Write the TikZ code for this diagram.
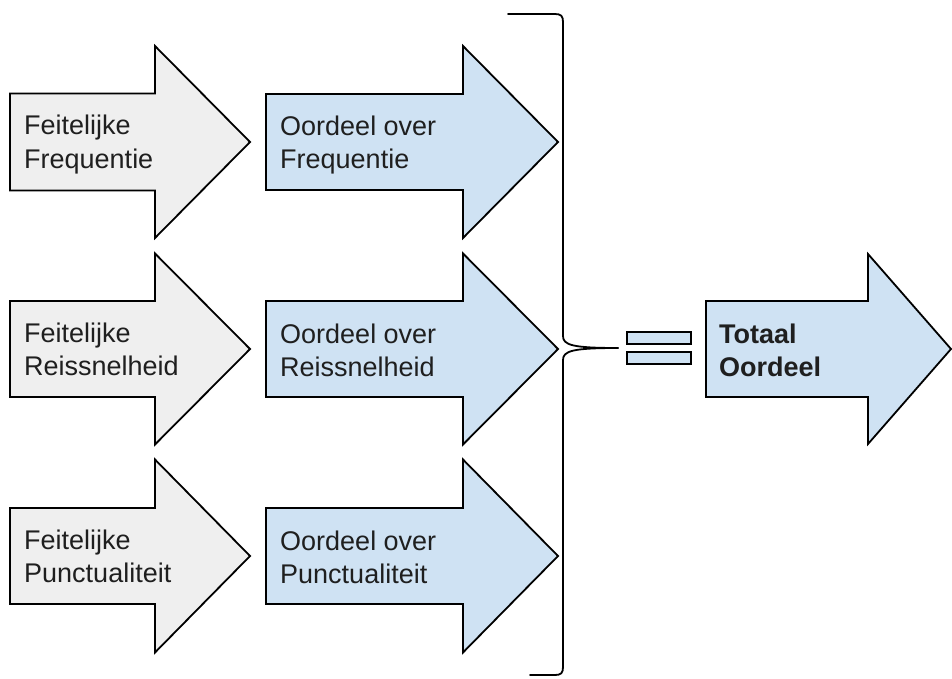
\documentclass[tikz,border=0pt]{standalone}
\usepackage{fontspec}
\setmainfont{Liberation Sans}
\definecolor{grayfill}{HTML}{EFEFEF}
\definecolor{bluefill}{HTML}{CFE2F3}
\tikzset{
  arrowshape/.style={draw=black, line width=1.8pt, line join=miter},
  lbl/.style={anchor=base west, inner sep=0pt, font=\fontsize{27}{33}\selectfont, text=black!88},
  bracestyle/.style={draw=black, line width=1.8pt, line cap=round},
  eqbar/.style={draw=black, line width=1.8pt, fill=bluefill},
}
% #1 fill, #2 left x, #3 centre y, #4 body half height, #5 head base x, #6 head half height, #7 tip x
\newcommand\bigarrow[7]{%
  \draw[arrowshape, fill=#1] (#2,#3-#4) -- (#5,#3-#4) -- (#5,#3-#6) -- (#7,#3)
    -- (#5,#3+#6) -- (#5,#3+#4) -- (#2,#3+#4) -- cycle;}
\begin{document}
\begin{tikzpicture}[x=1pt,y=-1pt]
\useasboundingbox (0,0) rectangle (952,679);

% row 1
\bigarrow{grayfill}{10}{142}{48.5}{155}{96}{250}
\bigarrow{bluefill}{266}{142}{48}{463}{96}{558}
% row 2
\bigarrow{grayfill}{10}{349}{48}{155}{95.5}{250}
\bigarrow{bluefill}{266}{349}{48}{463}{95.5}{558}
% row 3
\bigarrow{grayfill}{10}{556}{48}{155}{96.5}{250}
\bigarrow{bluefill}{266}{556}{48}{463}{96.5}{558}
% total
\bigarrow{bluefill}{706}{349}{48}{868}{95}{951}

% labels
\node[lbl] (g1a) at (24,135) {Feitelijke};
\node[lbl] (g1b) at (24,168) {Frequentie};
\node[lbl] (g2a) at (24,342) {Feitelijke};
\node[lbl] (g2b) at (24,375) {Reissnelheid};
\node[lbl] (g3a) at (24,549) {Feitelijke};
\node[lbl] (g3b) at (24,582) {Punctualiteit};

\node[lbl] (b1a) at (280,136) {Oordeel over};
\node[lbl] (b1b) at (280,169) {Frequentie};
\node[lbl] (b2a) at (280,343) {Oordeel over};
\node[lbl] (b2b) at (280,376) {Reissnelheid};
\node[lbl] (b3a) at (280,550) {Oordeel over};
\node[lbl] (b3b) at (280,583) {Punctualiteit};

\node[lbl, font=\fontsize{27}{33}\selectfont\bfseries] (ta) at (719,343) {Totaal};
\node[lbl, font=\fontsize{27}{33}\selectfont\bfseries] (tb) at (719,376) {Oordeel};

% brace
\coordinate (bt) at (618,348);
\draw[bracestyle] (508,14) -- (555,14) .. controls (561,14) and (563,16) .. (563,22)
  -- (563,336) .. controls (563,345) and (572,348) .. (bt);
\draw[bracestyle] (530,675) -- (555,675) .. controls (561,675) and (563,673) .. (563,667)
  -- (563,360) .. controls (563,351) and (572,348) .. (bt);

% equals sign
\draw[eqbar] (627,332) rectangle (691,344);
\draw[eqbar] (627,352) rectangle (691,364);
\end{tikzpicture}
\end{document}
